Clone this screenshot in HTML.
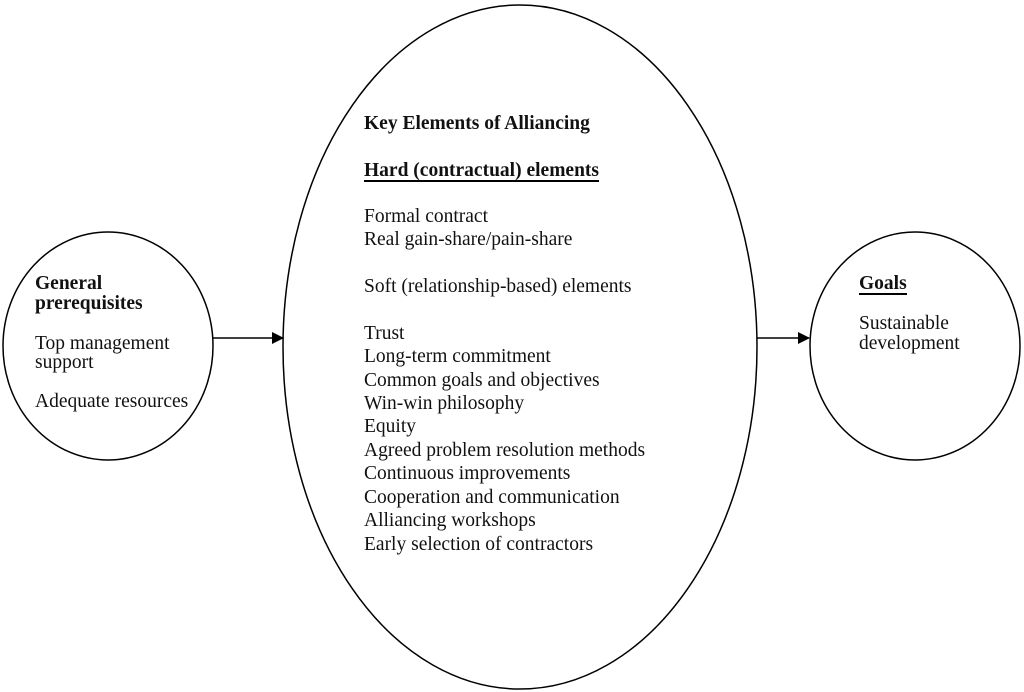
<!DOCTYPE html>
<html><head><style>body{margin:0;background:#fff}svg{display:block}text{font-family:"Liberation Serif",serif;font-size:19.5px;fill:#111}.b{font-weight:bold}</style></head>
<body>
<svg width="1024" height="692" viewBox="0 0 1024 692">
<defs><marker id="a" markerWidth="12" markerHeight="12" refX="11" refY="6" orient="auto" markerUnits="userSpaceOnUse"><path d="M0,0 L12,6 L0,12 z" fill="#000"/></marker></defs>
<g fill="none" stroke="#000" stroke-width="1.5">
<ellipse cx="108" cy="346" rx="105" ry="114"/>
<ellipse cx="520" cy="347" rx="237" ry="342"/>
<ellipse cx="915" cy="346" rx="105" ry="114"/>
<line x1="213" y1="338" x2="283" y2="338" marker-end="url(#a)"/>
<line x1="757" y1="338" x2="809" y2="338" marker-end="url(#a)"/>
</g>
<text x="35" y="289" class="b">General</text>
<text x="35" y="309" class="b">prerequisites</text>
<text x="35" y="349">Top management</text>
<text x="35" y="368">support</text>
<text x="35" y="407">Adequate resources</text>
<text x="859" y="289" class="b">Goals</text>
<line x1="859" y1="294" x2="907" y2="294" stroke="#000" stroke-width="2"/>
<text x="859" y="329">Sustainable</text>
<text x="859" y="349">development</text>
<text x="364" y="129" class="b">Key Elements of Alliancing</text>
<text x="364" y="176" class="b">Hard (contractual) elements</text>
<line x1="364" y1="181" x2="599" y2="181" stroke="#000" stroke-width="2"/>
<text x="364" y="222">Formal contract</text>
<text x="364" y="245">Real gain-share/pain-share</text>
<text x="364" y="292">Soft (relationship-based) elements</text>
<text x="364" y="339">Trust</text>
<text x="364" y="362">Long-term commitment</text>
<text x="364" y="386">Common goals and objectives</text>
<text x="364" y="409">Win-win philosophy</text>
<text x="364" y="432">Equity</text>
<text x="364" y="456">Agreed problem resolution methods</text>
<text x="364" y="479">Continuous improvements</text>
<text x="364" y="503">Cooperation and communication</text>
<text x="364" y="526">Alliancing workshops</text>
<text x="364" y="550">Early selection of contractors</text>
</svg>
</body></html>
